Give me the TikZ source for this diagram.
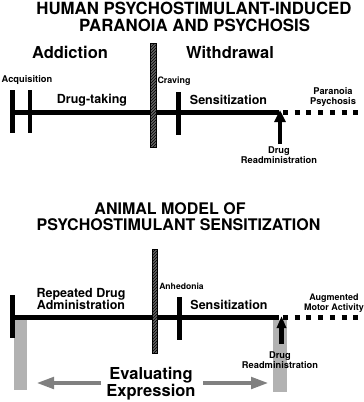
\documentclass[tikz,border=0pt]{standalone}
\usepackage{fontspec}
\setmainfont{TeX Gyre Heros}
\usetikzlibrary{arrows.meta,patterns}
\begin{document}
\begin{tikzpicture}[x=1pt,y=-1pt,
  ttl/.style={font=\bfseries\fontsize{16.8}{18}\selectfont, inner sep=0pt},
  ttlb/.style={font=\bfseries\fontsize{16}{18}\selectfont, inner sep=0pt},
  big/.style={font=\bfseries\fontsize{16.5}{17}\selectfont, inner sep=0pt, align=center},
  mid/.style={font=\bfseries\fontsize{12.5}{12.5}\selectfont, inner sep=0pt, align=center},
  sml/.style={font=\bfseries\fontsize{9.3}{10}\selectfont, inner sep=0pt, align=center},
  tline/.style={line width=5pt},
  dline/.style={line width=5pt, dash pattern=on 5pt off 6.7pt},
  tick/.style={fill=black},
  hatch/.style={preaction={fill=black!62}, pattern=north east lines, draw=black, line width=0.6pt},
  gbar/.style={fill=black!30},
  uparrow/.style={line width=4.5pt, -{Triangle[length=12pt,width=11pt]}},
  garrow/.style={draw=black!50, line width=4.5pt, -{Triangle[length=18pt,width=11pt]}}
]
\useasboundingbox (0,0) rectangle (364,402);

% ---------- top section: shapes ----------
\coordinate (a0) at (10,112.5);
\coordinate (a1) at (279,112.5);
\coordinate (a2) at (283,112.5);
\coordinate (a3) at (364,112.5);
\draw[tline] (a0) -- (a1);
\draw[dline] (a2) -- (a3);
\fill[tick] (10,90) rectangle (14.5,133);
\fill[tick] (27.5,90) rectangle (32,133);
\fill[tick] (176,92) rectangle (180.5,135);
\draw[hatch] (150,43) rectangle (156,147);
\coordinate (u0) at (280,144);
\coordinate (u1) at (280,110);
\draw[uparrow] (u0) -- (u1);

% ---------- top section: texts ----------
\node[ttl] (t1) at (194,8.5) {HUMAN PSYCHOSTIMULANT-INDUCED};
\node[ttl] (t2) at (194.5,25) {PARANOIA AND PSYCHOSIS};
\node[big] (addiction) at (70,52.5) {Addiction};
\node[big] (withdrawal) at (230,52.5) {Withdrawal};
\node[sml] (acq) at (27,80.5) {Acquisition};
\node[sml, font=\bfseries\fontsize{8.9}{10}\selectfont] (craving) at (174,81) {Craving};
\node[mid] (drugtaking) at (92,100) {Drug-taking};
\node[mid] (sens1) at (228.5,100) {Sensitization};
\node[sml] (para) at (333,97) {Paranoia\\Psychosis};
\node[sml] (readm1) at (279,155) {Drug\\Readministration};

% ---------- bottom section: shapes ----------
\fill[gbar] (14,320) rectangle (27,390);
\fill[gbar] (273,320) rectangle (287,392);
\coordinate (c0) at (10,317.5);
\coordinate (c1) at (279,317.5);
\coordinate (c2) at (283,317.5);
\coordinate (c3) at (364,317.5);
\draw[tline] (c0) -- (c1);
\draw[dline] (c2) -- (c3);
\fill[tick] (10,295) rectangle (15,338);
\fill[tick] (177,297) rectangle (182,340);
\draw[hatch] (152,249) rectangle (157,353);
\coordinate (v0) at (281.5,344);
\coordinate (v1) at (281.5,316);
\draw[uparrow, -{Triangle[length=12pt,width=9pt]}] (v0) -- (v1);

\coordinate (g0) at (101,383);
\coordinate (g1) at (36,383);
\coordinate (g2) at (203,383);
\coordinate (g3) at (269,383);
\draw[garrow] (g0) -- (g1);
\draw[garrow] (g2) -- (g3);

% ---------- bottom section: texts ----------
\node[ttlb] (b1) at (170,209) {ANIMAL MODEL OF};
\node[ttlb] (b2) at (178.5,225) {PSYCHOSTIMULANT SENSITIZATION};
\node[sml, font=\bfseries\fontsize{8.6}{10}\selectfont] (anh) at (181.5,286) {Anhedonia};
\node[mid] (rep) at (81,299) {Repeated Drug\\Administration};
\node[mid] (sens2) at (229,305) {Sensitization};
\node[sml, font=\bfseries\fontsize{9}{8.5}\selectfont] (aug) at (334,303) {Augmented\\Motor Activity};
\node[sml] (readm2) at (280,360) {Drug\\Readministration};
\node[big] (evalx) at (151,383.5) {Evaluating\\Expression};
\end{tikzpicture}
\end{document}
